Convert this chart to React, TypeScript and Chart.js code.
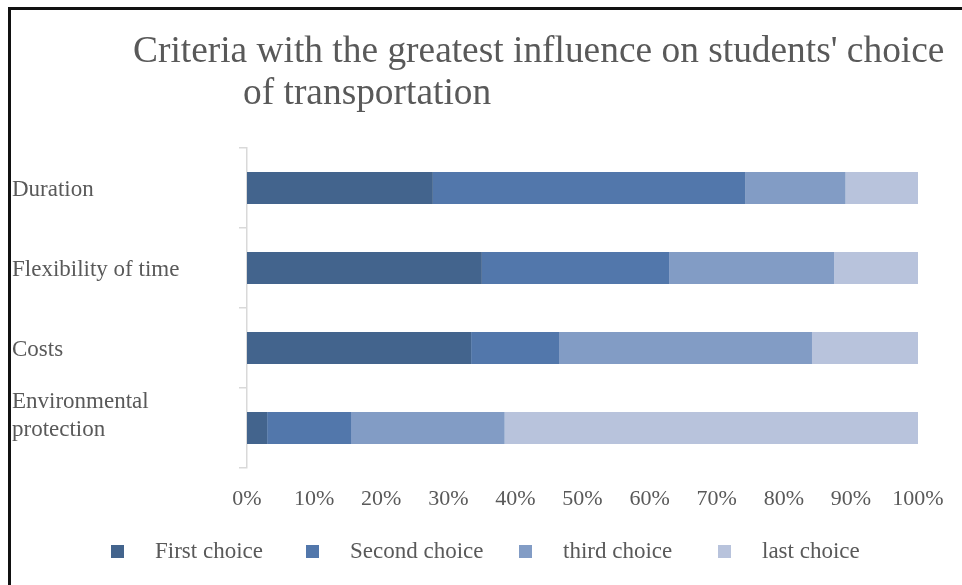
import React, { useEffect, useRef } from 'react';
import { Chart, registerables } from 'chart.js';

Chart.register(...registerables);

const titleLines = ["Criteria with the greatest influence on students' choice", 'of transportation'];
const categories: (string | string[])[] = ['Duration', 'Flexibility of time', 'Costs', ['Environmental', 'protection', '']];
const seriesNames = ['First choice', 'Second choice', 'third choice', 'last choice'];
const firstChoice = [27.7, 35.0, 33.4, 3.0];
const secondChoice = [46.6, 27.9, 13.1, 12.5];
const thirdChoice = [14.9, 24.6, 37.7, 22.9];
const lastChoice = [10.8, 12.5, 15.8, 61.6];
const seriesColors = ['#43648D', '#5277AB', '#829CC5', '#B8C3DC'];
const axisMax = 100;
const axisStep = 10;

const FONT = "'Liberation Serif', 'Times New Roman', serif";
const TEXT = '#595959';

const legendLeft = [111, 306, 519, 718];

export default function App() {
  const ref = useRef<HTMLCanvasElement | null>(null);

  useEffect(() => {
    if (!ref.current) return;
    const values = [firstChoice, secondChoice, thirdChoice, lastChoice];
    const chart = new Chart(ref.current, {
      type: 'bar',
      data: {
        labels: categories,
        datasets: seriesNames.map((name, i) => ({
          label: name,
          data: values[i],
          backgroundColor: seriesColors[i],
          borderWidth: 0,
          categoryPercentage: 0.8,
          barPercentage: 0.5,
        })),
      },
      options: {
        indexAxis: 'y',
        responsive: false,
        animation: false,
        devicePixelRatio: 1,
        layout: { padding: { left: 12, top: 148, right: 44, bottom: 60 } },
        plugins: {
          legend: { display: false },
          title: { display: false },
          tooltip: { enabled: false },
        },
        scales: {
          x: {
            stacked: true,
            min: 0,
            max: axisMax,
            grid: { display: false },
            border: { display: false },
            ticks: {
              stepSize: axisStep,
              callback: (v: any) => v + '%',
              font: { family: FONT, size: 22 },
              color: TEXT,
              padding: 10,
              maxRotation: 0,
              autoSkip: false,
            },
            afterFit: (s: any) => {
              s.height = 57;
            },
          },
          y: {
            stacked: true,
            grid: {
              drawOnChartArea: false,
              drawTicks: true,
              tickLength: 8,
              color: '#D9D9D9',
              lineWidth: 1.5,
              offset: true,
            },
            border: { display: true, color: '#D9D9D9', width: 1.5 },
            ticks: {
              crossAlign: 'far',
              autoSkip: false,
              labelOffset: 2,
              font: { family: FONT, size: 23, lineHeight: 1.2 },
              color: TEXT,
            },
            afterFit: (s: any) => {
              s.width = 235;
            },
          },
        },
      },
    });
    return () => chart.destroy();
  }, []);

  return (
    <div style={{ position: 'fixed', left: 0, top: 0, width: 962, height: 585, overflow: 'hidden', background: '#fff' }}>
      <div style={{ position: 'absolute', left: 8, top: 7, width: 1100, height: 800, border: '3px solid #111', boxSizing: 'border-box' }} />
      <canvas ref={ref} width={962} height={585} style={{ position: 'absolute', left: 0, top: 0 }} />
      <div style={{ position: 'absolute', left: 133, top: 31, fontFamily: FONT, fontSize: 37.4, lineHeight: '37px', color: TEXT, whiteSpace: 'nowrap' }}>
        {titleLines[0]}
      </div>
      <div style={{ position: 'absolute', left: 243, top: 73, fontFamily: FONT, fontSize: 37.4, lineHeight: '37px', color: TEXT, whiteSpace: 'nowrap' }}>
        {titleLines[1]}
      </div>
      {seriesNames.map((name, i) => (
        <div key={name} style={{ position: 'absolute', left: legendLeft[i], top: 538, height: 26, display: 'flex', alignItems: 'center', whiteSpace: 'nowrap' }}>
          <span style={{ display: 'inline-block', width: 13, height: 13, background: seriesColors[i], marginRight: 31 }} />
          <span style={{ fontFamily: FONT, fontSize: 23, color: TEXT }}>{name}</span>
        </div>
      ))}
    </div>
  );
}
